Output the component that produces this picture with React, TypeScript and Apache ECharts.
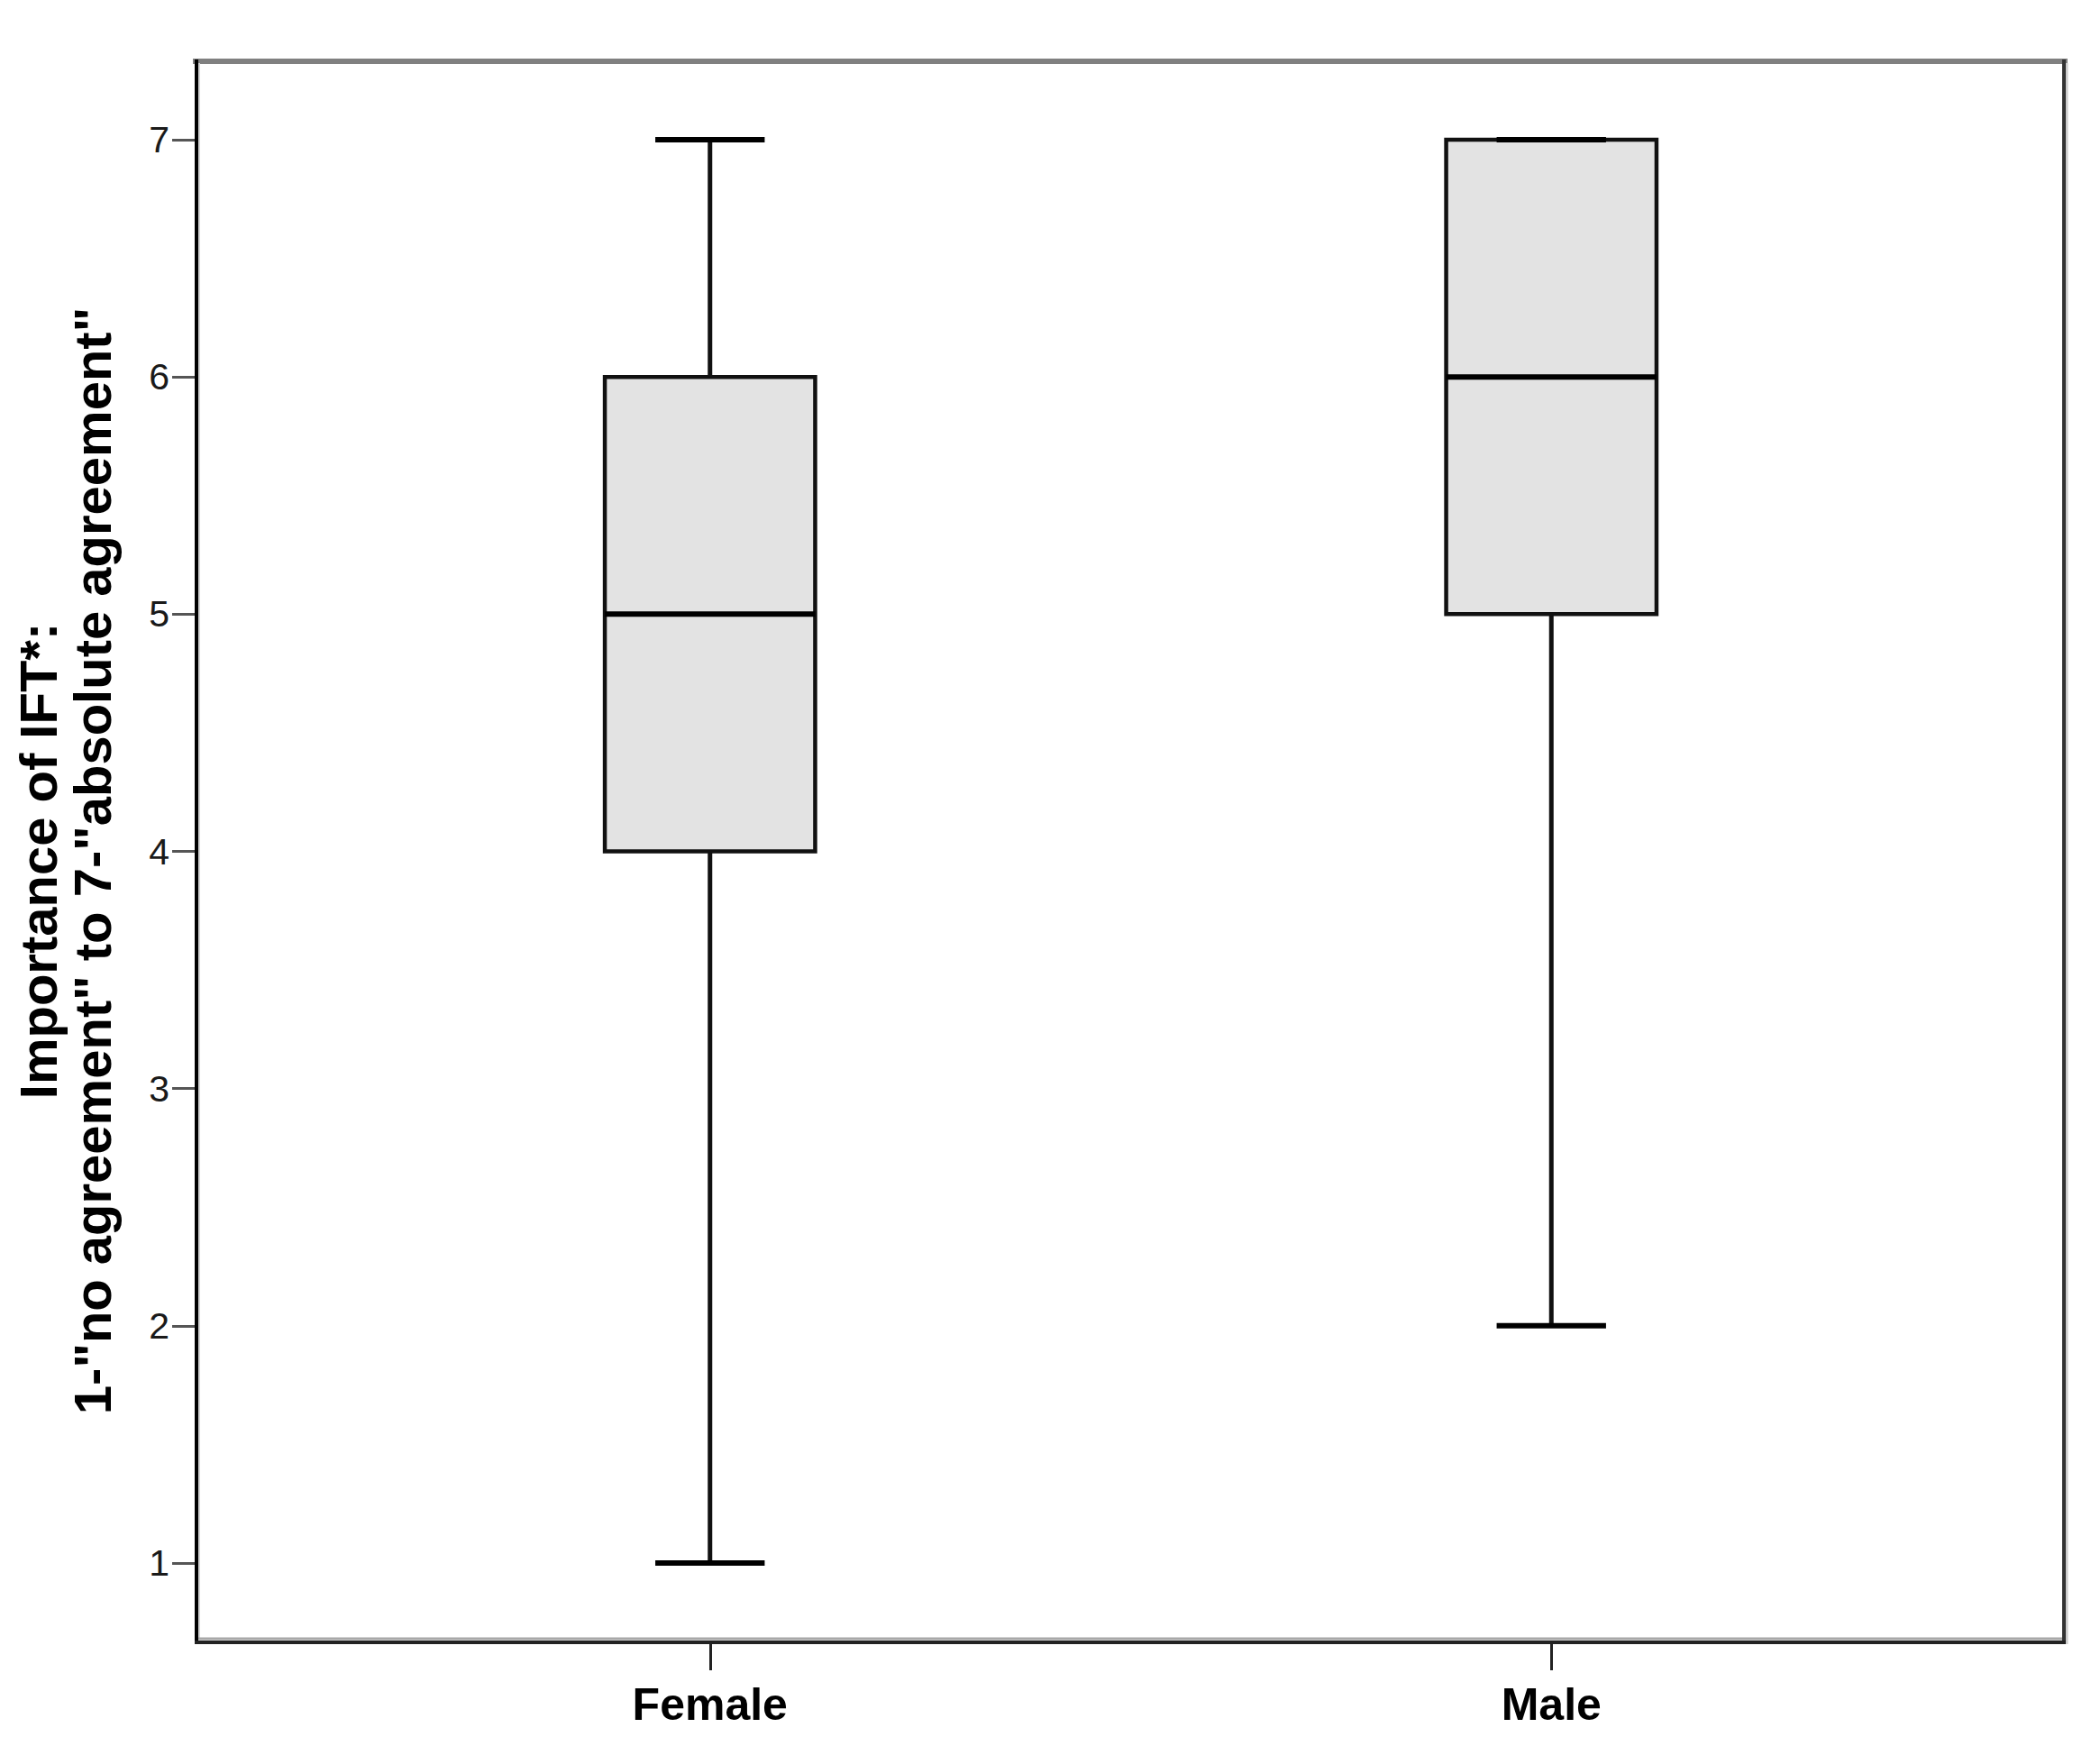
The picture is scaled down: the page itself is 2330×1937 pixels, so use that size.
import React, { useEffect, useRef } from "react";
import * as echarts from "echarts";

const categories = ["Female", "Male"];
const whiskerLow = [1, 2];
const q1Values = [4, 5];
const medianValues = [5, 6];
const q3Values = [6, 7];
const whiskerHigh = [7, 7];
const yTicks = [1, 2, 3, 4, 5, 6, 7];
const yTitle = 'Importance of IFT*:\n1-"no agreement" to 7-"absolute agreement"';

const FONT = "'Liberation Sans', Arial, Helvetica, sans-serif";

export default function App() {
  const ref = useRef<HTMLDivElement>(null);
  useEffect(() => {
    if (!ref.current) return;
    const chart = echarts.init(ref.current, null, { renderer: "svg" });
    const data = categories.map((c, i) => [
      i,
      whiskerLow[i],
      q1Values[i],
      medianValues[i],
      q3Values[i],
      whiskerHigh[i],
    ]);
    const renderItem = (params: any, api: any) => {
      const x = api.value(0);
      const band = api.size([1, 0])[0];
      const boxW = band * 0.25;
      const capW = band * 0.13;
      const pMin = api.coord([x, api.value(1)]);
      const pQ1 = api.coord([x, api.value(2)]);
      const pMed = api.coord([x, api.value(3)]);
      const pQ3 = api.coord([x, api.value(4)]);
      const pMax = api.coord([x, api.value(5)]);
      const cx = pMed[0];
      const stroke = "#111";
      const children: any[] = [
        {
          type: "line",
          shape: { x1: cx, y1: pQ3[1], x2: cx, y2: pMax[1] },
          style: { stroke, lineWidth: 5 },
        },
        {
          type: "line",
          shape: { x1: cx, y1: pQ1[1], x2: cx, y2: pMin[1] },
          style: { stroke, lineWidth: 5 },
        },
        {
          type: "rect",
          shape: { x: cx - boxW / 2, y: pQ3[1], width: boxW, height: pQ1[1] - pQ3[1] },
          style: { fill: "#e3e3e3", stroke, lineWidth: 4.5 },
        },
        {
          type: "line",
          shape: { x1: cx - boxW / 2, y1: pMed[1], x2: cx + boxW / 2, y2: pMed[1] },
          style: { stroke: "#000", lineWidth: 6 },
        },
        {
          type: "line",
          shape: { x1: cx - capW / 2, y1: pMax[1], x2: cx + capW / 2, y2: pMax[1] },
          style: { stroke: "#000", lineWidth: 6 },
        },
        {
          type: "line",
          shape: { x1: cx - capW / 2, y1: pMin[1], x2: cx + capW / 2, y2: pMin[1] },
          style: { stroke: "#000", lineWidth: 6 },
        },
      ];
      return { type: "group", children };
    };
    const option: any = {
      animation: false,
      backgroundColor: "#ffffff",
      grid: { left: 321, right: 142, top: 155, bottom: 203 },
      xAxis: {
        type: "category",
        data: categories,
        offset: 87,
        axisLine: { show: false },
        axisTick: {
          show: true,
          alignWithLabel: true,
          length: 32,
          lineStyle: { color: "#222", width: 3 },
        },
        axisLabel: {
          margin: 45,
          color: "#000",
          fontFamily: FONT,
          fontWeight: "bold",
          fontSize: 50,
        },
        splitLine: { show: false },
      },
      yAxis: {
        type: "value",
        min: yTicks[0],
        max: yTicks[yTicks.length - 1],
        interval: 1,
        offset: 105,
        axisLine: { show: false },
        axisTick: {
          show: true,
          length: 25,
          lineStyle: { color: "#555", width: 3 },
        },
        axisLabel: {
          margin: 28,
          color: "#1a1a1a",
          fontFamily: FONT,
          fontSize: 41,
          padding: [6, 0, 0, 0],
        },
        splitLine: { show: false },
      },
      graphic: [
        {
          type: "line",
          shape: { x1: 214, y1: 68, x2: 2294, y2: 68 },
          style: { stroke: "#808080", lineWidth: 6 },
          z: 10,
        },
        {
          type: "line",
          shape: { x1: 221, y1: 70, x2: 221, y2: 1819 },
          style: { stroke: "#d4d4d4", lineWidth: 2 },
          z: 10,
        },
        {
          type: "line",
          shape: { x1: 218, y1: 66, x2: 218, y2: 1824 },
          style: { stroke: "#000", lineWidth: 4 },
          z: 11,
        },
        {
          type: "line",
          shape: { x1: 2293, y1: 70, x2: 2293, y2: 1824 },
          style: { stroke: "#cccccc", lineWidth: 3 },
          z: 10,
        },
        {
          type: "line",
          shape: { x1: 2290, y1: 66, x2: 2290, y2: 1824 },
          style: { stroke: "#333", lineWidth: 4 },
          z: 11,
        },
        {
          type: "line",
          shape: { x1: 218, y1: 1818, x2: 2290, y2: 1818 },
          style: { stroke: "#a8a8a8", lineWidth: 3 },
          z: 10,
        },
        {
          type: "line",
          shape: { x1: 216, y1: 1822, x2: 2292, y2: 1822 },
          style: { stroke: "#222", lineWidth: 4 },
          z: 11,
        },
        {
          type: "text",
          x: 72,
          y: 955,
          rotation: Math.PI / 2,
          style: {
            text: yTitle,
            fill: "#000",
            font: `bold 58px ${FONT}`,
            lineHeight: 60,
            align: "center",
            verticalAlign: "middle",
          },
        },
      ],
      series: [
        {
          type: "custom",
          renderItem,
          data,
          encode: { x: 0, y: [1, 2, 3, 4, 5] },
          clip: false,
        },
      ],
    };
    chart.setOption(option);
    return () => chart.dispose();
  }, []);
  return (
    <div
      ref={ref}
      style={{ position: "absolute", left: 0, top: 0, width: 2330, height: 1937 }}
    />
  );
}
